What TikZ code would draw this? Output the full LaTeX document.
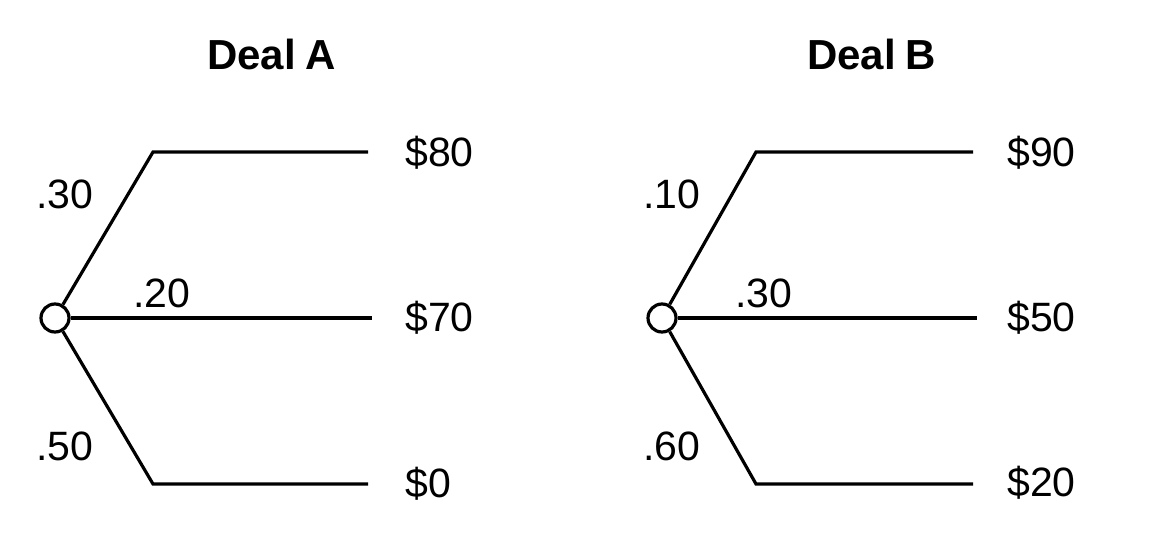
\documentclass[tikz,border=0pt]{standalone}
\usepackage{fontspec}
\setmainfont{Liberation Sans}
\begin{document}
\begin{tikzpicture}[x=1pt,y=-1pt,
  branch/.style={line width=3.2pt,line join=miter},
  chance/.style={circle,draw,line width=3.2pt,fill=white,minimum size=28pt,inner sep=0pt},
  lbl/.style={anchor=base west,inner sep=0pt,font=\fontsize{41}{41}\selectfont},
  ttl/.style={anchor=base west,inner sep=0pt,font=\fontsize{42}{42}\selectfont\bfseries}]
\useasboundingbox (0,0) rectangle (1150,540);
% Deal A
\node[ttl] (tA) at (207,70) {Deal\hspace{-0.04em} A};
\coordinate (kA1) at (153,152);
\coordinate (kA3) at (153,484);
\coordinate (eA1) at (368,152);
\coordinate (eA2) at (372,318);
\coordinate (eA3) at (368,484);
\node[chance] (cA) at (55,318) {};
\draw[branch] (cA) -- (kA1) -- (eA1);
\draw[branch] (cA.east) -- (eA2);
\draw[branch] (cA) -- (kA3) -- (eA3);
\node[lbl] (pA1) at (36,208) {.30};
\node[lbl] (pA2) at (133,307) {.20};
\node[lbl] (pA3) at (36,460) {.50};
\node[lbl] (vA1) at (405,166.5) {\$80};
\node[lbl] (vA2) at (405,331) {\$70};
\node[lbl] (vA3) at (405,497) {\$0};
% Deal B
\node[ttl] (tB) at (807,70) {Deal\hspace{-0.04em} B};
\coordinate (kB1) at (756,152);
\coordinate (kB3) at (756,484);
\coordinate (eB1) at (973,152);
\coordinate (eB2) at (977,318);
\coordinate (eB3) at (973,484);
\node[chance] (cB) at (662,318) {};
\draw[branch] (cB) -- (kB1) -- (eB1);
\draw[branch] (cB.east) -- (eB2);
\draw[branch] (cB) -- (kB3) -- (eB3);
\node[lbl] (pB1) at (643,208) {.10};
\node[lbl] (pB2) at (735,307) {.30};
\node[lbl] (pB3) at (643,460) {.60};
\node[lbl] (vB1) at (1007,166.5) {\$90};
\node[lbl] (vB2) at (1007,331.5) {\$50};
\node[lbl] (vB3) at (1007,496.5) {\$20};
\end{tikzpicture}
\end{document}
